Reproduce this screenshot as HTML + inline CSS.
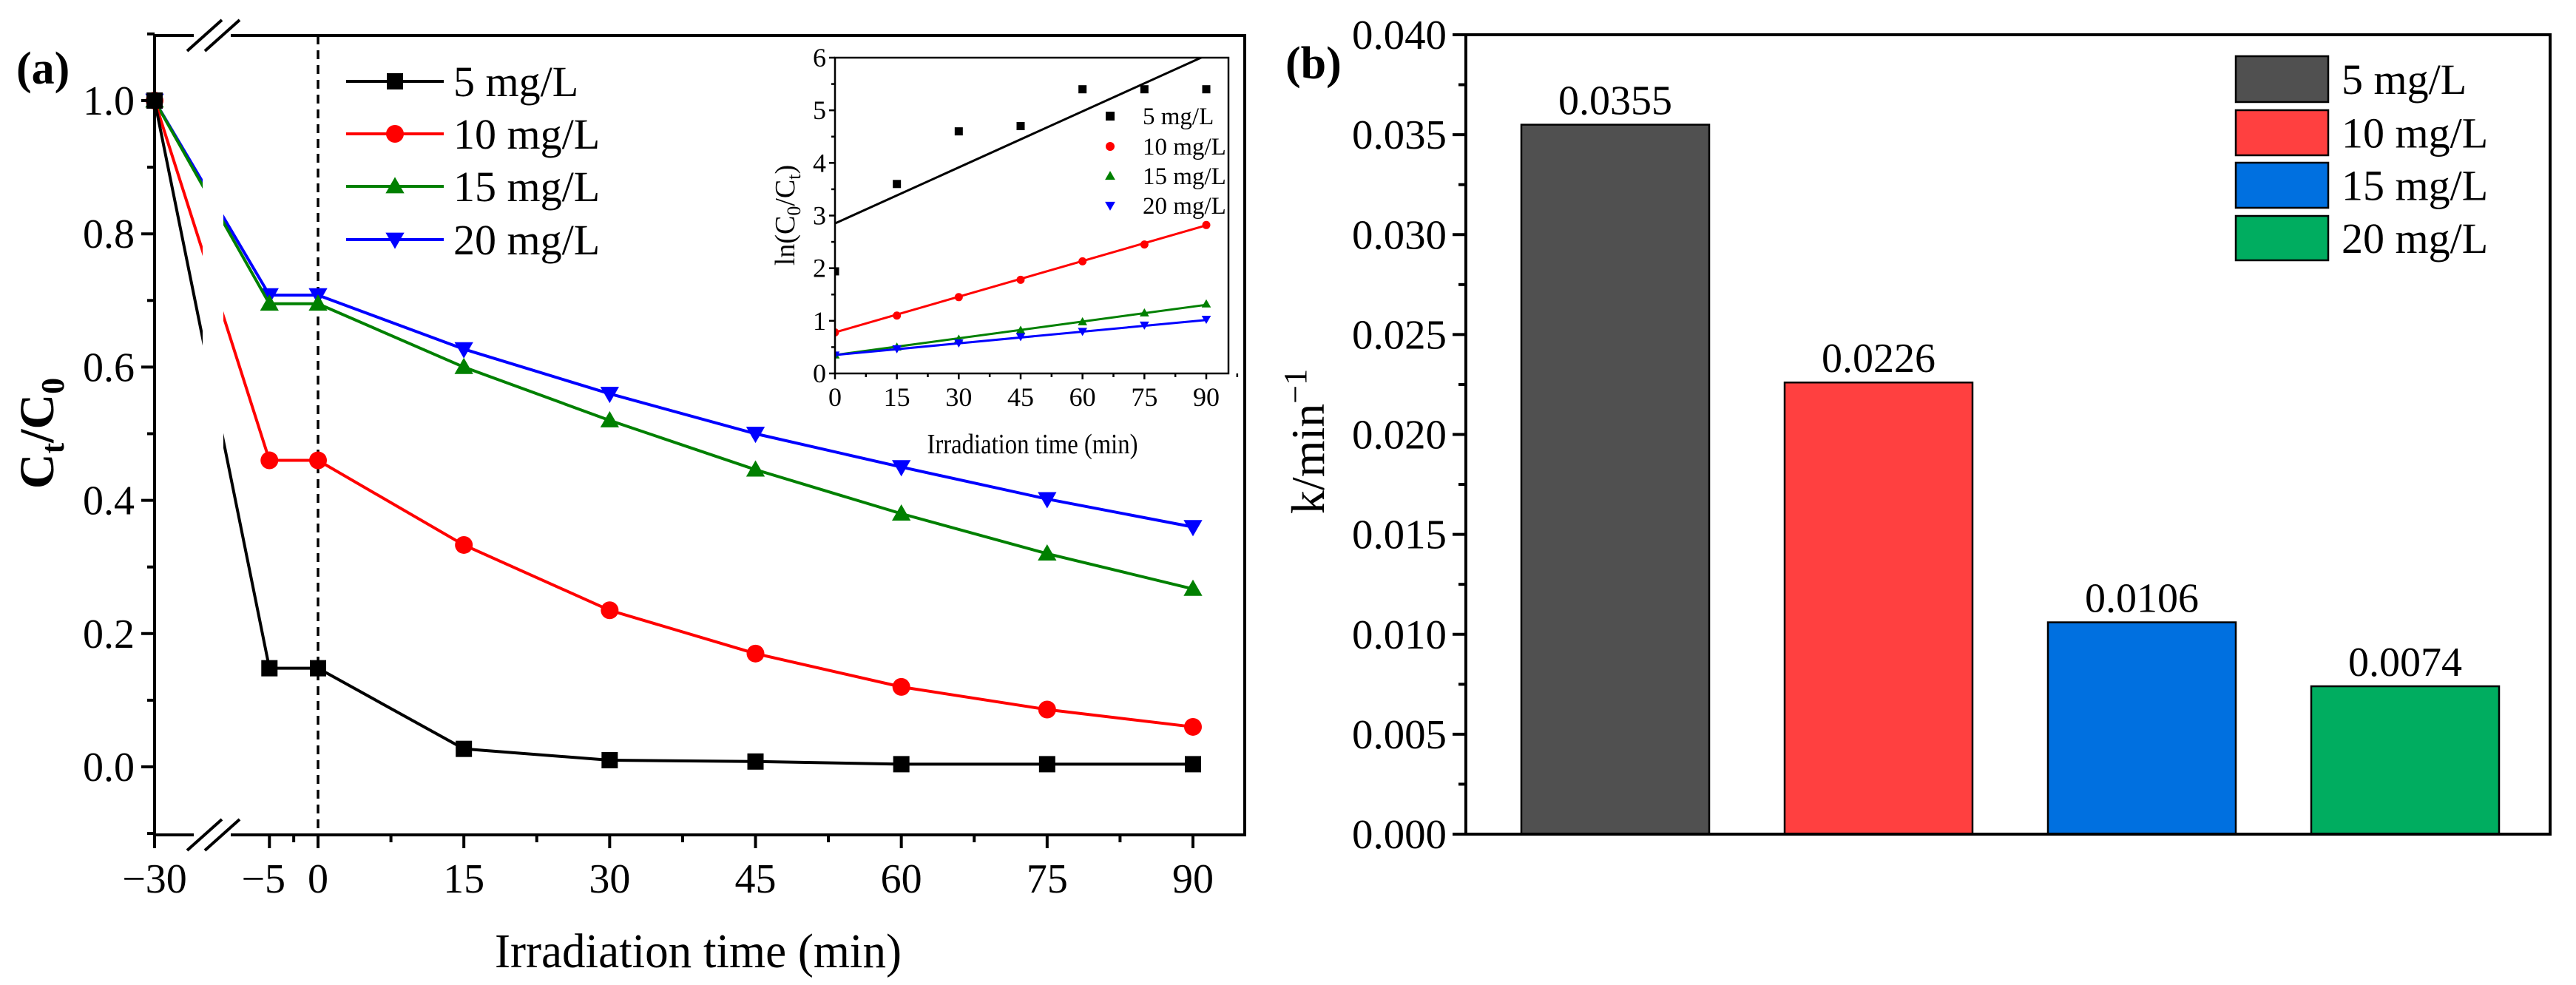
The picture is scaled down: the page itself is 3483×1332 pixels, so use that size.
<!DOCTYPE html>
<html><head><meta charset="utf-8"><style>
html,body{margin:0;padding:0;background:#fff}
svg{display:block;font-family:"Liberation Serif",serif}
</style></head><body>
<svg id="chart" width="3483" height="1332" viewBox="0 0 3483 1332" xmlns="http://www.w3.org/2000/svg"></svg>
<script>
// ---- Panel (a) data ----
const timesA = [-30, -5, 0, 15, 30, 45, 60, 75, 90];
const seriesNames = ['5 mg/L', '10 mg/L', '15 mg/L', '20 mg/L'];
const c5 = [1.0, 0.148, 0.148, 0.027, 0.010, 0.008, 0.004, 0.004, 0.004];
const c10 = [1.0, 0.46, 0.46, 0.333, 0.235, 0.17, 0.12, 0.086, 0.06];
const c15 = [1.0, 0.695, 0.695, 0.60, 0.52, 0.446, 0.38, 0.32, 0.267];
const c20 = [1.0, 0.708, 0.708, 0.627, 0.56, 0.50, 0.45, 0.402, 0.36];
const yTicksA = [0.0, 0.2, 0.4, 0.6, 0.8, 1.0];
const xTicksA = [-30, -5, 0, 15, 30, 45, 60, 75, 90];
// ---- Inset data ----
const timesIn = [0, 15, 30, 45, 60, 75, 90];
const ln5 = [1.94, 3.6, 4.6, 4.7, 5.4, 5.4, 5.4];
const ln10 = [0.78, 1.1, 1.45, 1.78, 2.13, 2.45, 2.82];
const ln15 = [0.35, 0.5, 0.65, 0.82, 0.98, 1.15, 1.32];
const ln20 = [0.35, 0.47, 0.58, 0.7, 0.8, 0.92, 1.03];
const fitIntercepts = [2.85, 0.78, 0.35, 0.35];
const fitSlopes = [0.0355, 0.0226, 0.0106, 0.0074];
const yTicksIn = [0, 1, 2, 3, 4, 5, 6];
const xTicksIn = [0, 15, 30, 45, 60, 75, 90];
// ---- Panel (b) data ----
const kValues = [0.0355, 0.0226, 0.0106, 0.0074];
const kLabels = ['0.0355', '0.0226', '0.0106', '0.0074'];
const yTicksB = [0, 0.005, 0.010, 0.015, 0.020, 0.025, 0.030, 0.035, 0.040];

const NS = 'http://www.w3.org/2000/svg';
const svg = document.getElementById('chart');
function mk(tag, attrs, parent) {
  const e = document.createElementNS(NS, tag);
  for (const k in attrs) e.setAttribute(k, attrs[k]);
  (parent || svg).appendChild(e);
  return e;
}
function txt(s, x, y, size, anchor, parent, extra) {
  const t = mk('text', Object.assign({x: x, y: y, 'font-size': size, 'text-anchor': anchor || 'middle', fill: '#000'}, extra || {}), parent);
  t.textContent = s;
  return t;
}
const colors = ['#000000', '#ff0000', '#008000', '#0000ff'];
const markers = ['square', 'circle', 'tri', 'tridown'];
function marker(type, x, y, s, color, parent) {
  let e;
  if (type === 'square') e = mk('rect', {x: x - s, y: y - s, width: 2 * s, height: 2 * s, fill: color}, parent);
  else if (type === 'circle') e = mk('circle', {cx: x, cy: y, r: s, fill: color}, parent);
  else if (type === 'tri') e = mk('polygon', {points: `${x},${y - s * 1.15} ${x - s * 1.15},${y + s * 0.85} ${x + s * 1.15},${y + s * 0.85}`, fill: color}, parent);
  else e = mk('polygon', {points: `${x},${y + s * 1.15} ${x - s * 1.15},${y - s * 0.85} ${x + s * 1.15},${y - s * 0.85}`, fill: color}, parent);
  return e;
}

// ===== Panel (a) =====
const A = {l: 209, r: 1683, t: 48, b: 1129};
const xA = v => v === -30 ? 209 : 430 + v * (1613 - 430) / 90;
const yA = v => 1037 - v * (1037 - 136);
const ga = mk('g', {});


const dataSets = [c5, c10, c15, c20];
const dl = mk('line', {x1: xA(0), y1: A.t, x2: xA(0), y2: A.b, stroke: '#000', 'stroke-width': 3.5, 'stroke-dasharray': '12,8'}, ga);


for (let s = 3; s >= 0; s--) {
  const g = mk('g', {}, ga);
  
  
  const pts = timesA.map((t, i) => xA(t) + ',' + yA(dataSets[s][i])).join(' ');
  mk('polyline', {points: pts, fill: 'none', stroke: colors[s], 'stroke-width': 4}, g);
  timesA.forEach((t, i) => {
    const m = marker(markers[s], xA(t), yA(dataSets[s][i]), s === 1 ? 12 : 11, colors[s], g);
    
    
  });
}
mk('rect', {x: 274, y: A.t + 4, width: 28, height: A.b - A.t - 8, fill: '#fff'}, ga);
mk('rect', {x: A.l, y: A.t, width: A.r - A.l, height: A.b - A.t, fill: 'none', stroke: '#000', 'stroke-width': 4}, ga);
mk('rect', {x: 262, y: A.t - 4, width: 50, height: 8, fill: '#fff'}, ga);
mk('rect', {x: 262, y: A.b - 4, width: 50, height: 8, fill: '#fff'}, ga);
[[A.t], [A.b]].forEach(([yy]) => {
  mk('line', {x1: 253, y1: yy + 21, x2: 300, y2: yy - 21, stroke: '#000', 'stroke-width': 4}, ga);
  mk('line', {x1: 277, y1: yy + 21, x2: 324, y2: yy - 21, stroke: '#000', 'stroke-width': 4}, ga);
});
yTicksA.forEach(v => {
  mk('line', {x1: A.l - 18, y1: yA(v), x2: A.l, y2: yA(v), stroke: '#000', 'stroke-width': 4}, ga);
  const t = txt(v.toFixed(1), A.l - 27, yA(v) + 19, 56, 'end', ga);
  
  
});
[-0.1, 0.1, 0.3, 0.5, 0.7, 0.9, 1.1].forEach(v => mk('line', {x1: A.l - 10, y1: yA(v), x2: A.l, y2: yA(v), stroke: '#000', 'stroke-width': 4}, ga));
xTicksA.forEach(v => {
  mk('line', {x1: xA(v), y1: A.b, x2: xA(v), y2: A.b + 18, stroke: '#000', 'stroke-width': 4}, ga);
  const t = txt(v < 0 ? '\u2212' + (-v) : String(v), xA(v) + (v === -5 ? -8 : 0), 1207, 56, 'middle', ga);
  
  
});
[-2.5, 7.5, 22.5, 37.5, 52.5, 67.5, 82.5].forEach(v => mk('line', {x1: xA(v), y1: A.b, x2: xA(v), y2: A.b + 10, stroke: '#000', 'stroke-width': 4}, ga));
let t = txt('Irradiation time (min)', 944, 1308, 66, 'middle', ga, {textLength: 550, lengthAdjust: 'spacingAndGlyphs'});
 
t = mk('text', {x: 0, y: 0, 'font-size': 66, 'font-weight': 'bold', 'text-anchor': 'middle', transform: 'translate(72,586) rotate(-90)'}, ga);
t.innerHTML = 'C<tspan font-size="44" dy="14">t</tspan><tspan dy="-14">/C</tspan><tspan font-size="44" dy="14">0</tspan>';
 
t = txt('(a)', 22, 113, 62, 'start', ga, {'font-weight': 'bold'});
 
const legA = mk('g', {}, ga);
 
const legRows = [110, 181, 252, 324];
seriesNames.forEach((n, i) => {
  const g = mk('g', {}, legA);
   
  mk('line', {x1: 468, y1: legRows[i], x2: 600, y2: legRows[i], stroke: colors[i], 'stroke-width': 4}, g);
  marker(markers[i], 534, legRows[i], i === 1 ? 12 : 11, colors[i], g);
  txt(n, 613, legRows[i] + 20, 58, 'start', g);
});
// inset
const I = {l: 1129, r: 1661, t: 78, b: 505};
const xI = v => 1129 + v * (1631 - 1129) / 90;
const yI = v => 505 - v * (505 - 78) / 6;
const gi = mk('g', {}, ga);
 
mk('rect', {x: I.l, y: I.t, width: I.r - I.l, height: I.b - I.t, fill: '#fff'}, gi);
const clip = mk('clipPath', {id: 'ic'}, gi);
mk('rect', {x: I.l, y: I.t, width: I.r - I.l, height: I.b - I.t}, clip);
const lnSets = [ln5, ln10, ln15, ln20];
for (let s = 0; s < 4; s++) {
  const g = mk('g', {'clip-path': 'url(#ic)'}, gi);
   
  mk('line', {x1: xI(0), y1: yI(fitIntercepts[s]), x2: xI(90), y2: yI(fitIntercepts[s] + fitSlopes[s] * 90), stroke: colors[s], 'stroke-width': 3}, g);
  timesIn.forEach((tt, i) => marker(markers[s], xI(tt), yI(lnSets[s][i]), 5.5, colors[s], g));
}
mk('rect', {x: I.l, y: I.t, width: I.r - I.l, height: I.b - I.t, fill: 'none', stroke: '#000', 'stroke-width': 2.5}, gi);
yTicksIn.forEach(v => {
  mk('line', {x1: I.l - 8, y1: yI(v), x2: I.l, y2: yI(v), stroke: '#000', 'stroke-width': 2.5}, gi);
  txt(String(v), I.l - 12, yI(v) + 12, 36, 'end', gi);
  if (v < 6) mk('line', {x1: I.l - 5, y1: yI(v + 0.5), x2: I.l, y2: yI(v + 0.5), stroke: '#000', 'stroke-width': 2.5}, gi);
});
xTicksIn.forEach(v => {
  mk('line', {x1: xI(v), y1: I.b, x2: xI(v), y2: I.b + 8, stroke: '#000', 'stroke-width': 2.5}, gi);
  txt(String(v), xI(v), 549, 36, 'middle', gi);
  mk('line', {x1: xI(v + 7.5), y1: I.b, x2: xI(v + 7.5), y2: I.b + 5, stroke: '#000', 'stroke-width': 2.5}, gi);
});
txt('Irradiation time (min)', 1396, 613, 38, 'middle', gi, {textLength: 285, lengthAdjust: 'spacingAndGlyphs'});
t = mk('text', {x: 0, y: 0, 'font-size': 38, 'text-anchor': 'middle', transform: 'translate(1074,291) rotate(-90)'}, gi);
t.innerHTML = 'ln(C<tspan font-size="26" dy="8">0</tspan><tspan dy="-8">/C</tspan><tspan font-size="26" dy="8">t</tspan><tspan dy="-8">)</tspan>';
const inRows = [157, 198, 238, 278];
seriesNames.forEach((n, i) => {
  const g = mk('g', {}, gi);
   
  marker(markers[i], 1501, inRows[i], 6, colors[i], g);
  txt(n, 1545, inRows[i] + 11, 33, 'start', g);
});

// ===== Panel (b) =====
const B = {l: 1982, r: 3448, t: 47, b: 1128};
const yB = v => B.b - v / 0.04 * (B.b - B.t);
const gb = mk('g', {});
 
const barColors = ['#505050', '#ff4040', '#0070e0', '#00ad60'];
const barCenters = i => 2184 + i * 356;
kValues.forEach((v, i) => {
  const r = mk('rect', {x: barCenters(i) - 127, y: yB(v), width: 254, height: B.b - yB(v), fill: barColors[i], stroke: '#000', 'stroke-width': 2.5}, gb);
  
  
  const l = txt(kLabels[i], barCenters(i), yB(v) - 14, 56, 'middle', gb);
   
});
mk('rect', {x: B.l, y: B.t, width: B.r - B.l, height: B.b - B.t, fill: 'none', stroke: '#000', 'stroke-width': 4}, gb);
yTicksB.forEach(v => {
  mk('line', {x1: B.l - 18, y1: yB(v), x2: B.l, y2: yB(v), stroke: '#000', 'stroke-width': 4}, gb);
  const l = txt(v.toFixed(3), B.l - 26, yB(v) + 19, 56, 'end', gb, {textLength: 128, lengthAdjust: 'spacingAndGlyphs'});
   
  if (v < 0.04) mk('line', {x1: B.l - 10, y1: yB(v + 0.0025), x2: B.l, y2: yB(v + 0.0025), stroke: '#000', 'stroke-width': 4}, gb);
});
t = mk('text', {x: 0, y: 0, 'font-size': 64, 'text-anchor': 'middle', transform: 'translate(1790,597) rotate(-90)'}, gb);
t.innerHTML = 'k/min<tspan font-size="44" dy="-24">\u22121</tspan>';
 
t = txt('(b)', 1738, 106, 62, 'start', gb, {'font-weight': 'bold'});
 
const legB = [[76, 138], [149, 210], [220, 281], [292, 352]];
seriesNames.forEach((n, i) => {
  const g = mk('g', {}, gb);
   
  mk('rect', {x: 3023, y: legB[i][0], width: 125, height: legB[i][1] - legB[i][0], fill: barColors[i], stroke: '#000', 'stroke-width': 2.5}, g);
  txt(n, 3166, (legB[i][0] + legB[i][1]) / 2 + 20, 58, 'start', g);
});
</script>
</body></html>
